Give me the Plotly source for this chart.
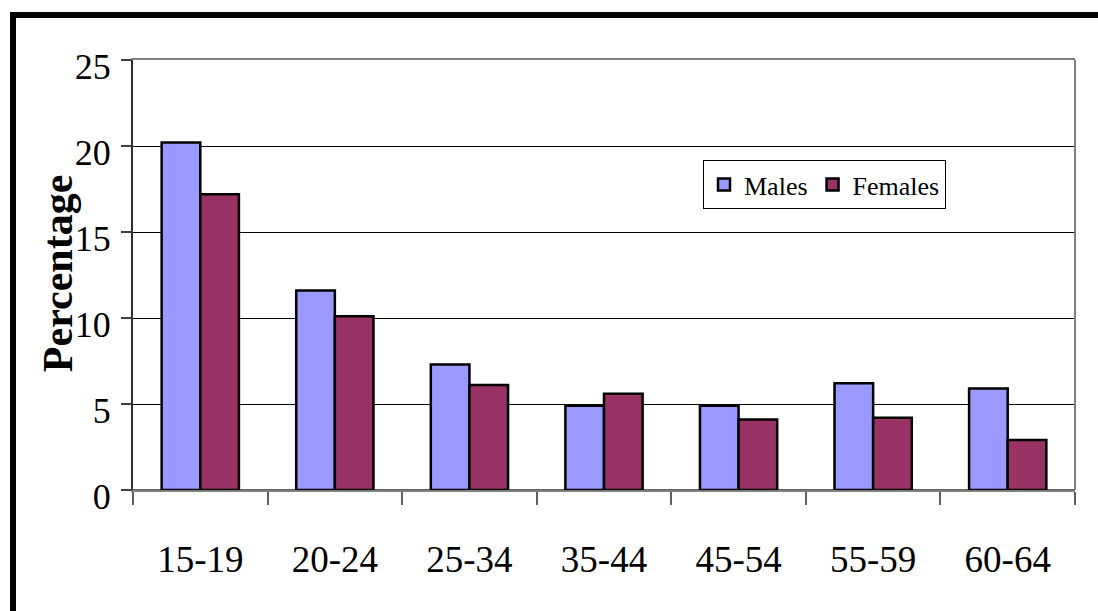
import plotly.graph_objects as go

# Age groups and the percentage values for each sex
age_groups = ["15-19", "20-24", "25-34", "35-44", "45-54", "55-59", "60-64"]
males = [20.2, 11.6, 7.3, 4.9, 4.9, 6.2, 5.9]
females = [17.2, 10.1, 6.1, 5.6, 4.1, 4.2, 2.9]
y_ticks = [0, 5, 10, 15, 20, 25]

FONT = "Liberation Serif, Times New Roman, serif"

fig = go.Figure()
fig.add_trace(go.Bar(
    name="Males", x=age_groups, y=males,
    marker=dict(color="#9999FF", line=dict(color="black", width=2.5)),
))
fig.add_trace(go.Bar(
    name="Females", x=age_groups, y=females,
    marker=dict(color="#993366", line=dict(color="black", width=2.5)),
))

# Plot area: left edge 133px, right edge 1075px, top 60px, bottom 490px
L, R, T, B = 133, 23, 60, 121
W, H = 1098, 611
plot_top_px = T
plot_bottom_px = H - B

shapes = [
    # right border of the plot area
    dict(type="line", xref="paper", yref="paper", x0=1, x1=1, y0=0, y1=1,
         line=dict(color="#808080", width=2)),
    # heavy black frame along the top edge of the page
    dict(type="rect", xref="paper", yref="paper", xsizemode="pixel", ysizemode="pixel",
         xanchor=0, yanchor=0,
         x0=10 - L, x1=W - L + 5, y0=plot_bottom_px - 18, y1=plot_bottom_px - 12,
         fillcolor="black", line=dict(width=0)),
    # heavy black frame along the left edge of the page
    dict(type="rect", xref="paper", yref="paper", xsizemode="pixel", ysizemode="pixel",
         xanchor=0, yanchor=0,
         x0=10 - L, x1=16 - L, y0=plot_bottom_px - H - 5, y1=plot_bottom_px - 12,
         fillcolor="black", line=dict(width=0)),
]

fig.update_layout(
    width=W, height=H,
    margin=dict(l=L, r=R, t=T, b=B),
    paper_bgcolor="white", plot_bgcolor="white",
    barmode="group", bargap=0.426, bargroupgap=0,
    font=dict(family=FONT, color="black"),
    showlegend=True,
    legend=dict(
        orientation="h",
        x=(703 - L) / (W - L - R), y=(plot_bottom_px - 160) / (plot_bottom_px - plot_top_px),
        xanchor="left", yanchor="top",
        bgcolor="white", bordercolor="black", borderwidth=1,
        font=dict(family=FONT, size=26, color="black"),
        itemwidth=30, traceorder="normal",
    ),
    xaxis=dict(
        type="category",
        showline=True, linecolor="#808080", linewidth=2, mirror=True,
        ticks="outside", tickson="boundaries", ticklen=13, tickcolor="#606060", tickwidth=2,
        tickfont=dict(family=FONT, size=37, color="black"),
        ticklabelstandoff=36,
        showgrid=False,
    ),
    yaxis=dict(
        range=[0, 25], tickvals=y_ticks,
        showline=True, linecolor="#303030", linewidth=2,
        ticks="outside", ticklen=10, tickcolor="#404040", tickwidth=1.5,
        tickfont=dict(family=FONT, size=36, color="black"),
        ticklabelstandoff=3, ticklabelshift=6,
        showgrid=True, gridcolor="black", gridwidth=1,
        zeroline=True, zerolinecolor="#606060", zerolinewidth=2,
    ),
    annotations=[
        # vertical axis title, placed just left of the tick labels
        dict(text="<b>Percentage</b>", textangle=-90,
             xref="paper", yref="paper", x=0, y=0.502, xshift=-75,
             xanchor="center", yanchor="middle", showarrow=False,
             font=dict(family=FONT, size=42, color="black")),
    ],
    shapes=shapes,
)

fig.write_html("out.html")
